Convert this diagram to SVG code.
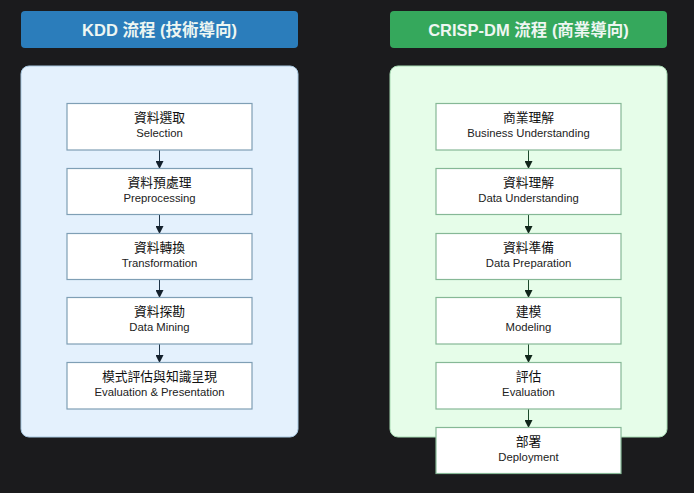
<svg xmlns="http://www.w3.org/2000/svg" width="694" height="493" viewBox="0 0 694 493">
<style>
.hdr{font-family:"Liberation Sans","Noto Sans CJK TC",sans-serif;font-size:16.5px;font-weight:bold;fill:#eef6f2;text-anchor:middle}
.zh{font-family:"Noto Sans CJK TC",sans-serif;font-size:12.8px;fill:#111;text-anchor:middle}
.en{font-family:"Liberation Sans","Noto Sans CJK TC",sans-serif;font-size:11.3px;fill:#222;text-anchor:middle}
.nl{fill:#fff;stroke:#7f9fb5;stroke-width:1.2}
.nr{fill:#fff;stroke:#86b896;stroke-width:1.2}
.cl{stroke:#1e3448;stroke-width:1;fill:none}
.cr{stroke:#1d4a2c;stroke-width:1;fill:none}
</style>
<defs>
<marker id="al" markerWidth="8" markerHeight="8" refX="7" refY="4" orient="auto" markerUnits="userSpaceOnUse"><path d="M0,0 L8,4 L0,8 Z" fill="#13202c"/></marker>
<marker id="ar" markerWidth="8" markerHeight="8" refX="7" refY="4" orient="auto" markerUnits="userSpaceOnUse"><path d="M0,0 L8,4 L0,8 Z" fill="#10261a"/></marker>
</defs>
<rect width="694" height="493" fill="#1b1b1d"/>
<g id="hdr-kdd"><rect x="21" y="11" width="277" height="37" rx="4" fill="#2b7dbb"/><text class="hdr" x="159.5" y="35.5">KDD 流程 (技術導向)</text></g>
<g id="hdr-crisp"><rect x="390" y="11" width="277" height="37" rx="4" fill="#35a85c"/><text class="hdr" x="528.5" y="35.5">CRISP-DM 流程 (商業導向)</text></g>
<g id="panel-kdd"><rect x="21" y="66" width="277" height="371" rx="8" fill="#e4f1fd" stroke="#a8c8e0" stroke-width="1"/></g>
<g id="panel-crisp"><rect x="390" y="66" width="277" height="371" rx="8" fill="#e6fde9" stroke="#a8dcb4" stroke-width="1"/></g>
<g id="connectors">
<line class="cl" x1="159.5" y1="150" x2="159.5" y2="168" marker-end="url(#al)"/>
<line class="cl" x1="159.5" y1="215" x2="159.5" y2="233" marker-end="url(#al)"/>
<line class="cl" x1="159.5" y1="279" x2="159.5" y2="297" marker-end="url(#al)"/>
<line class="cl" x1="159.5" y1="344" x2="159.5" y2="362" marker-end="url(#al)"/>
<line class="cr" x1="528.5" y1="150" x2="528.5" y2="168" marker-end="url(#ar)"/>
<line class="cr" x1="528.5" y1="215" x2="528.5" y2="233" marker-end="url(#ar)"/>
<line class="cr" x1="528.5" y1="279" x2="528.5" y2="297" marker-end="url(#ar)"/>
<line class="cr" x1="528.5" y1="344" x2="528.5" y2="362" marker-end="url(#ar)"/>
<line class="cr" x1="528.5" y1="409" x2="528.5" y2="427" marker-end="url(#ar)"/>
</g>
<g id="k1"><rect class="nl" x="67" y="103.5" width="185" height="46.5"/><text class="zh" x="159.5" y="122">資料選取</text><text class="en" x="159.5" y="136.5">Selection</text></g>
<g id="k2"><rect class="nl" x="67" y="168.5" width="185" height="46"/><text class="zh" x="159.5" y="187">資料預處理</text><text class="en" x="159.5" y="201.5">Preprocessing</text></g>
<g id="k3"><rect class="nl" x="67" y="233.5" width="185" height="46"/><text class="zh" x="159.5" y="252">資料轉換</text><text class="en" x="159.5" y="266.5">Transformation</text></g>
<g id="k4"><rect class="nl" x="67" y="297.5" width="185" height="46.5"/><text class="zh" x="159.5" y="316">資料探勘</text><text class="en" x="159.5" y="330.5">Data Mining</text></g>
<g id="k5"><rect class="nl" x="67" y="362.5" width="185" height="46.5"/><text class="zh" x="159.5" y="381">模式評估與知識呈現</text><text class="en" x="159.5" y="395.5">Evaluation &amp; Presentation</text></g>
<g id="c1"><rect class="nr" x="436" y="103.5" width="185" height="46.5"/><text class="zh" x="528.5" y="122">商業理解</text><text class="en" x="528.5" y="136.5">Business Understanding</text></g>
<g id="c2"><rect class="nr" x="436" y="168.5" width="185" height="46"/><text class="zh" x="528.5" y="187">資料理解</text><text class="en" x="528.5" y="201.5">Data Understanding</text></g>
<g id="c3"><rect class="nr" x="436" y="233.5" width="185" height="46"/><text class="zh" x="528.5" y="252">資料準備</text><text class="en" x="528.5" y="266.5">Data Preparation</text></g>
<g id="c4"><rect class="nr" x="436" y="297.5" width="185" height="46.5"/><text class="zh" x="528.5" y="316">建模</text><text class="en" x="528.5" y="330.5">Modeling</text></g>
<g id="c5"><rect class="nr" x="436" y="362.5" width="185" height="46.5"/><text class="zh" x="528.5" y="381">評估</text><text class="en" x="528.5" y="395.5">Evaluation</text></g>
<g id="c6"><rect class="nr" x="436" y="427.5" width="185" height="46"/><text class="zh" x="528.5" y="446">部署</text><text class="en" x="528.5" y="460.5">Deployment</text></g>
</svg>
